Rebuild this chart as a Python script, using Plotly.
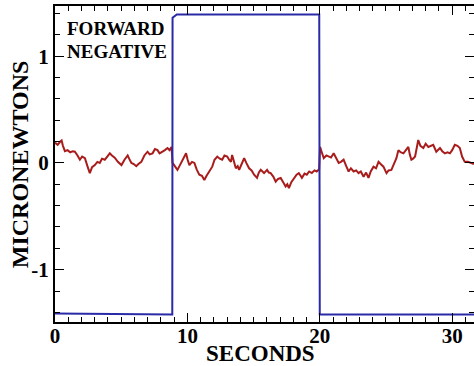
import plotly.graph_objects as go

# ---- data ----
red_t = [0.00, 0.20, 0.40, 0.50, 0.60, 0.75, 0.95, 1.15, 1.35, 1.50, 1.70, 1.88, 2.05, 2.26, 2.45, 2.63,
         2.80, 3.01, 3.20, 3.38, 3.55, 3.76, 3.95, 4.14, 4.30, 4.51, 4.75, 5.02, 5.25, 5.49, 5.60, 5.77,
         5.95, 6.14, 6.30, 6.52, 6.75, 6.99, 7.15, 7.37, 7.55, 7.74, 7.90, 8.12, 8.30, 8.50, 8.65, 8.80,
         8.88, 9.05, 9.25, 9.40, 9.53, 9.70, 9.90, 10.02, 10.15, 10.35, 10.53, 10.70, 10.90, 11.10, 11.28,
         11.45, 11.65, 11.88, 12.05, 12.26, 12.45, 12.63, 12.80, 13.01, 13.15, 13.29, 13.38, 13.50, 13.66,
         13.80, 13.91, 14.10, 14.29, 14.45, 14.66, 14.85, 15.04, 15.26, 15.40, 15.54, 15.79, 16.02, 16.15,
         16.29, 16.50, 16.67, 16.85, 17.05, 17.25, 17.42, 17.55, 17.67, 17.85, 18.05, 18.25, 18.42, 18.55,
         18.65, 18.85, 19.02, 19.20, 19.40, 19.60, 19.77, 19.95,
         20.02, 20.15, 20.30, 20.50, 20.68, 20.85, 21.05, 21.25, 21.43, 21.60, 21.80, 22.00, 22.18, 22.35,
         22.56, 22.75, 22.93, 23.10, 23.31, 23.50, 23.68, 23.85, 24.06, 24.25, 24.44, 24.60, 24.81, 25.04,
         25.20, 25.41, 25.60, 25.79, 25.94, 26.10, 26.32, 26.50, 26.69, 26.80, 26.92, 27.05, 27.20, 27.44,
         27.60, 27.82, 28.00, 28.20, 28.40, 28.57, 28.80, 29.08, 29.25, 29.45, 29.65, 29.83, 30.00, 30.20,
         30.40, 30.58, 30.75, 30.95, 31.20, 31.50, 31.65]
red_v = [0.19, 0.17, 0.20, 0.21, 0.16, 0.11, 0.12, 0.10, 0.11, 0.105, 0.07, 0.03, 0.06, 0.045, -0.03, -0.095,
         -0.04, -0.02, 0.01, 0.0, 0.04, 0.03, 0.06, 0.09, 0.07, 0.05, 0.01, -0.02, 0.03, 0.07, 0.04, 0.0,
         -0.01, -0.03, -0.01, 0.01, 0.07, 0.105, 0.08, 0.09, 0.13, 0.12, 0.09, 0.105, 0.12, 0.14, 0.12, 0.15,
         0.0, -0.03, -0.065, -0.03, 0.0, 0.03, 0.09, 0.03, -0.02, 0.01, 0.0, -0.06, -0.11, -0.12, -0.16,
         -0.12, -0.08, -0.035, 0.03, 0.06, 0.04, 0.03, 0.07, 0.06, 0.03, 0.01, 0.075, 0.02, -0.05,
         -0.03, -0.065, -0.01, 0.045, 0.0, -0.05, -0.07, -0.11, -0.14, -0.09, -0.065, -0.095, -0.065, -0.09,
         -0.095, -0.13, -0.175, -0.15, -0.14, -0.19, -0.22, -0.20, -0.235, -0.18, -0.14, -0.11, -0.095, -0.12,
         -0.14, -0.10, -0.11, -0.08, -0.095, -0.07, -0.08, -0.06,
         0.15, 0.10, 0.045, 0.07, 0.06, 0.05, 0.09, 0.04, 0.0, 0.01, 0.03, -0.03, -0.08, -0.05,
         -0.08, -0.07, -0.095, -0.08, -0.13, -0.09, -0.14, -0.08, -0.035, -0.05, 0.01, -0.01, -0.035, -0.095,
         -0.07, -0.065, -0.01, 0.045, 0.12, 0.10, 0.09, 0.12, 0.15, 0.08, 0.03, 0.04, 0.06, 0.215,
         0.16, 0.14, 0.18, 0.15, 0.16, 0.17, 0.105, 0.14, 0.11, 0.09, 0.10, 0.09, 0.12, 0.17,
         0.16, 0.14, 0.06, 0.01, 0.01, 0.0, -0.01]

blue_t = [0.0, 8.86, 8.88, 9.2, 19.96, 20.0, 31.65]
blue_v = [-1.41, -1.42, 1.36, 1.39, 1.39, -1.42, -1.42]

x_ticks = [0, 10, 20, 30]
y_ticks = [-1, 0, 1]
x_title = "SECONDS"
y_title = "MICRONEWTONS"
label_lines = ["FORWARD", "NEGATIVE"]

SERIF = "'Liberation Serif', 'Times New Roman', Times, 'DejaVu Serif', serif"

fig = go.Figure()
fig.add_trace(go.Scatter(x=red_t, y=red_v, mode="lines",
                         line=dict(color="#a81c1c", width=2), showlegend=False))
fig.add_trace(go.Scatter(x=blue_t, y=blue_v, mode="lines",
                         line=dict(color="#2a2aa8", width=2), showlegend=False))

axis_common = dict(
    showgrid=False, zeroline=False, showline=True, linecolor="black", linewidth=2,
    mirror="ticks", ticks="inside", ticklen=9, tickwidth=1.2, tickcolor="black",
    tickfont=dict(family=SERIF, size=21, color="black", weight="bold"),
)
fig.update_xaxes(range=[0, 31.65], tickvals=x_ticks, ticktext=[str(v) for v in x_ticks],
                 ticklabelstandoff=-6,
                 minor=dict(dtick=1, tick0=0, ticks="inside", ticklen=5, tickcolor="black", tickwidth=1),
                 **axis_common)
fig.update_yaxes(range=[-1.49, 1.47], tickvals=y_ticks, ticktext=[str(v) for v in y_ticks],
                 minor=dict(dtick=0.2, tick0=0, ticks="inside", ticklen=5, tickcolor="black", tickwidth=1),
                 **axis_common)

fig.add_annotation(text=x_title, xref="paper", yref="paper", x=0.49, y=-0.10,
                   xanchor="center", yanchor="middle", showarrow=False,
                   font=dict(family=SERIF, size=23, color="black", weight="bold"))
fig.add_annotation(text=y_title, xref="paper", yref="paper", x=-0.083, y=0.50,
                   xanchor="center", yanchor="middle", showarrow=False, textangle=-90,
                   font=dict(family=SERIF, size=24, color="black", weight="bold"))
fig.add_annotation(text=label_lines[0], xref="x", yref="y", x=0.75, y=1.262,
                   xanchor="left", yanchor="middle", showarrow=False,
                   font=dict(family=SERIF, size=19, color="black", weight="bold"))
fig.add_annotation(text=label_lines[1], xref="x", yref="y", x=0.75, y=1.048,
                   xanchor="left", yanchor="middle", showarrow=False,
                   font=dict(family=SERIF, size=19, color="black", weight="bold"))

fig.update_layout(width=476, height=366, margin=dict(l=55, r=0, t=6, b=44),
                  plot_bgcolor="white", paper_bgcolor="white")

fig.write_html("out.html", config={"displayModeBar": False},
               post_script="document.body.style.margin='0';document.body.style.overflow='hidden';")
